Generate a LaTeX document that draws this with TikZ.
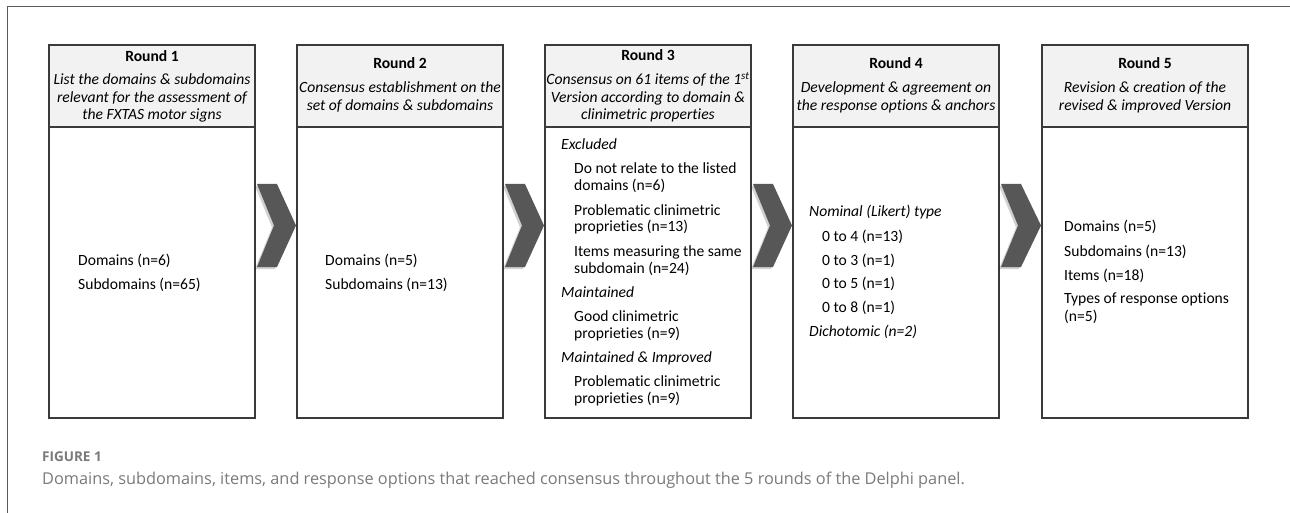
\documentclass[tikz,border=0pt]{standalone}
\usepackage{fontspec}
\setmainfont{Carlito}[Ligatures=NoCommon]
\newfontfamily\capfont{Open Sans}
\usetikzlibrary{calc}
\definecolor{frameline}{HTML}{5A5A5A}
\definecolor{boxline}{HTML}{3A3A3A}
\definecolor{hdrfill}{HTML}{F2F2F2}
\definecolor{chev}{HTML}{575757}
\definecolor{capgray}{HTML}{7A7A7A}
\tikzset{
  hdrbox/.style={draw=boxline, line width=1.4pt, fill=hdrfill, inner sep=0pt, outer sep=0pt,
    minimum width=206pt, minimum height=82pt, anchor=north west},
  bodybox/.style={draw=boxline, line width=1.4pt, fill=white, inner sep=0pt, outer sep=0pt,
    minimum width=206pt, minimum height=291pt, anchor=north west},
  ttl/.style={inner sep=0pt, anchor=base, font=\fontsize{15.6}{17.3}\selectfont\bfseries},
  sub/.style={inner sep=0pt, anchor=base, font=\fontsize{15.6}{17.3}\selectfont\itshape},
  txt/.style={inner sep=0pt, anchor=base west, font=\fontsize{15.6}{17.3}\selectfont},
  itx/.style={inner sep=0pt, anchor=base west, font=\fontsize{15.6}{17.3}\selectfont\itshape},
  chevron/.style={fill=chev, draw=none},
  chevshadow/.style={fill=black, opacity=0.18, draw=none}
}
\begin{document}
\begin{tikzpicture}[x=1pt,y=-1pt]
\useasboundingbox (0,0) rectangle (1290,513);
\fill[white] (0,0) rectangle (1290,513);
% outer frame (top and left edges)
\draw[frameline, line width=1pt] (7,513) -- (7,7) -- (1290,7);

% boxes
\foreach \i/\x in {1/49, 2/297, 3/545, 4/793, 5/1042}{
  \node[hdrbox] (h\i) at (\x,45) {};
  \node[bodybox] (b\i) at (h\i.south west) {};
}

% chevrons
\foreach \a/\b in {1/2, 2/3, 3/4, 4/5}{
  \path let \p1=(b\a.east), \p2=(b\b.west) in
    coordinate (cl\a) at (\x1+2pt, 0)
    coordinate (cr\a) at (\x2-1pt, 0);
}
\foreach \a in {1,2,3,4}{
  \path let \p1=(cl\a), \p2=(cr\a) in
    [chevshadow] (\x1-2pt,-186pt) -- (\x1+18pt,-186pt) -- (\x2-2pt,-227.5pt) -- (\x1+18pt,-269pt) -- (\x1-2pt,-269pt) -- (\x1+15pt,-227.5pt) -- cycle;
  \path let \p1=(cl\a), \p2=(cr\a) in
    [chevron] (\x1,-184pt) -- (\x1+20pt,-184pt) -- (\x2,-225.5pt) -- (\x1+20pt,-267pt) -- (\x1,-267pt) -- (\x1+17pt,-225.5pt) -- cycle;
}

% ---- Round 1
\node[ttl] (r1t) at (152,62) {Round 1};
\node[sub] (r1a) at (152,85) {List the domains \& subdomains};
\node[sub] (r1b) at (152,102.5) {relevant for the assessment of};
\node[sub] (r1c) at (152,119.5) {the FXTAS motor signs};
\node[txt] (r1d) at (78,265) {Domains (n=6)};
\node[txt] (r1e) at (78,289) {Subdomains (n=65)};

% ---- Round 2
\node[ttl] (r2t) at (400,69) {Round 2};
\node[sub] (r2a) at (400,93) {Consensus establishment on the};
\node[sub] (r2b) at (400,110.5) {set of domains \& subdomains};
\node[txt] (r2d) at (325,265) {Domains (n=5)};
\node[txt] (r2e) at (325,289) {Subdomains (n=13)};

% ---- Round 3
\node[ttl] (r3t) at (648,61) {Round 3};
\node[sub] (r3a) at (648,85) {Consensus on 61 items of the 1\textsuperscript{st}};
\node[sub] (r3b) at (648,102.5) {Version according to domain \&};
\node[sub] (r3c) at (648,120) {clinimetric properties};
\node[itx] (r3d) at (561,150) {Excluded};
\node[txt] (r3e) at (574,174) {Do not relate to the listed};
\node[txt] (r3f) at (574,191) {domains (n=6)};
\node[txt] (r3g) at (574,215) {Problematic clinimetric};
\node[txt] (r3h) at (574,232) {proprieties (n=13)};
\node[txt] (r3i) at (574,256) {Items measuring the same};
\node[txt] (r3j) at (574,273) {subdomain (n=24)};
\node[itx] (r3k) at (561,297) {Maintained};
\node[txt] (r3l) at (574,321) {Good clinimetric};
\node[txt] (r3m) at (574,338) {proprieties (n=9)};
\node[itx] (r3n) at (561,362) {Maintained \& Improved};
\node[txt] (r3o) at (574,386) {Problematic clinimetric};
\node[txt] (r3p) at (574,403) {proprieties (n=9)};

% ---- Round 4
\node[ttl] (r4t) at (896,69) {Round 4};
\node[sub] (r4a) at (896,93) {Development \& agreement on};
\node[sub] (r4b) at (896,110.5) {the response options \& anchors};
\node[itx] (r4c) at (809,217) {Nominal (Likert) type};
\node[txt] (r4d) at (822,241) {0 to 4 (n=13)};
\node[txt] (r4e) at (822,265) {0 to 3 (n=1)};
\node[txt] (r4f) at (822,288.5) {0 to 5 (n=1)};
\node[txt] (r4g) at (822,312.5) {0 to 8 (n=1)};
\node[itx] (r4h) at (809,336) {Dichotomic (n=2)};

% ---- Round 5
\node[ttl] (r5t) at (1145,69) {Round 5};
\node[sub] (r5a) at (1145,93) {Revision \& creation of the};
\node[sub] (r5b) at (1145,110.5) {revised \& improved Version};
\node[txt] (r5c) at (1064,232) {Domains (n=5)};
\node[txt] (r5d) at (1064,256) {Subdomains (n=13)};
\node[txt] (r5e) at (1064,280) {Items (n=18)};
\node[txt] (r5f) at (1064,303.5) {Types of response options};
\node[txt] (r5g) at (1064,321) {(n=5)};

% caption
\node[inner sep=0pt, anchor=base west, text=capgray, font=\capfont\fontsize{13.5}{16}\selectfont\bfseries] (fig) at (42,461) {FIGURE 1};
\node[inner sep=0pt, anchor=base west, text=capgray, font=\capfont\fontsize{16.3}{19}\selectfont] (cap) at (42,484) {Domains, subdomains, items, and response options that reached consensus throughout the 5 rounds of the Delphi panel.};
\end{tikzpicture}
\end{document}
